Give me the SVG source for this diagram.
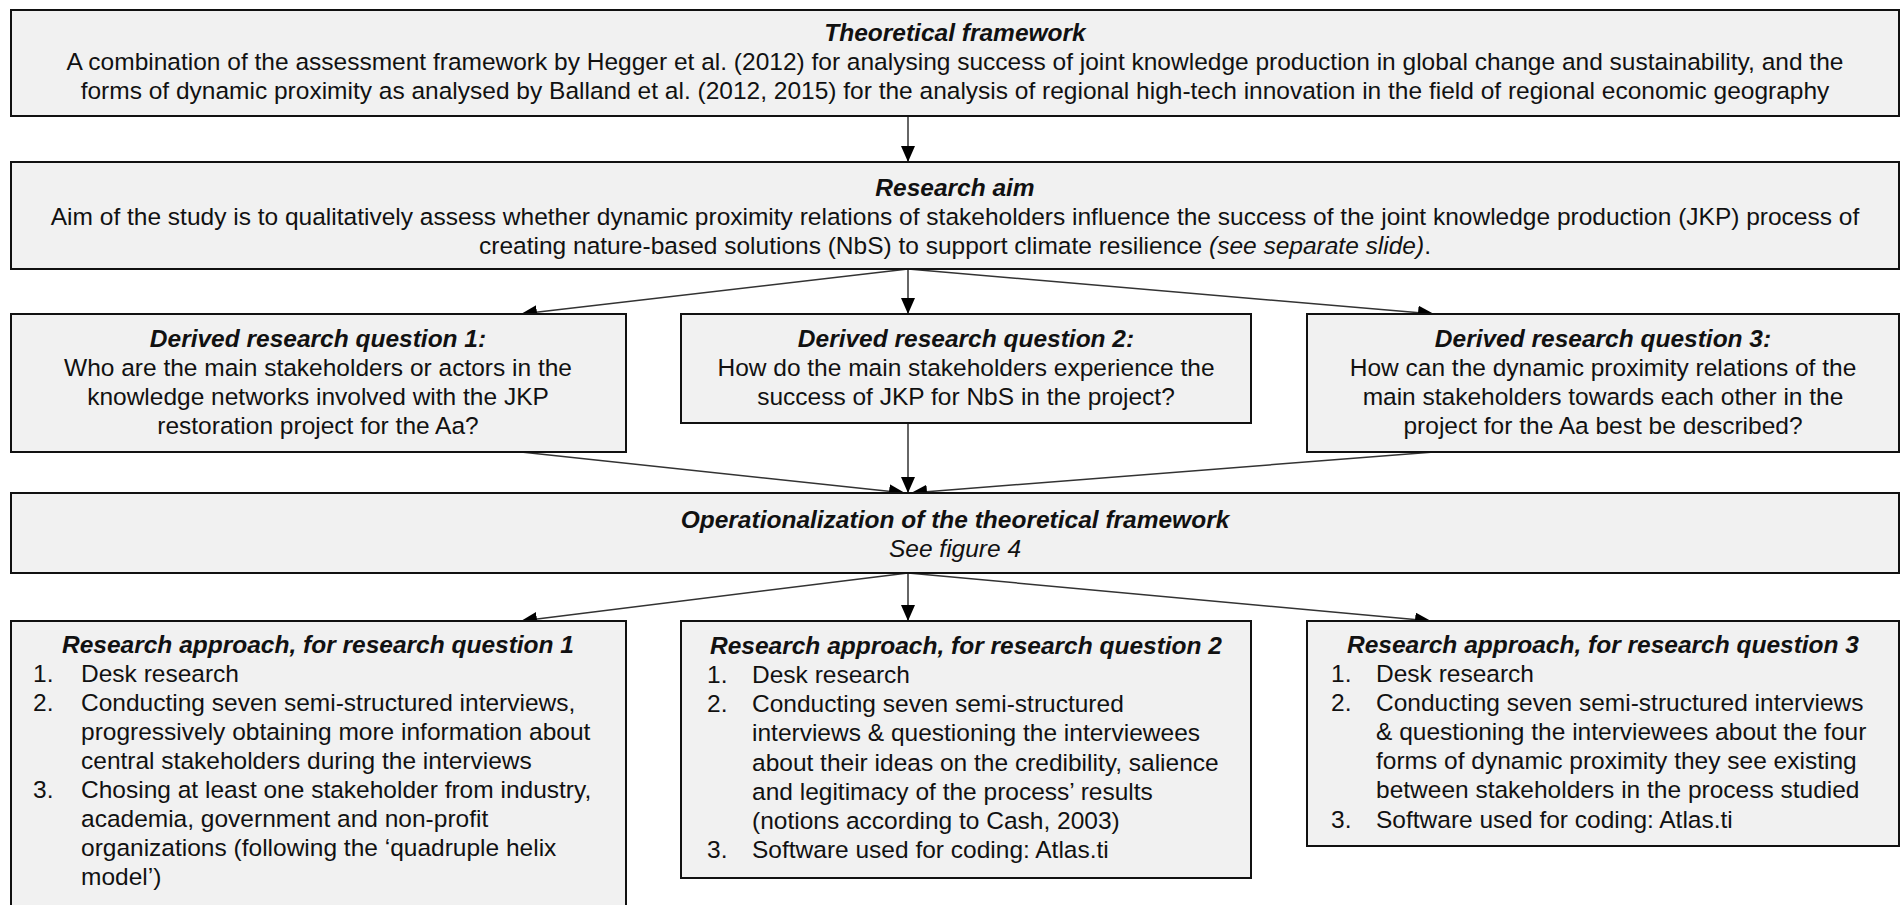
<svg xmlns="http://www.w3.org/2000/svg" width="1901" height="905" viewBox="0 0 1901 905">
<style>
.box{fill:#f1f1f1;stroke:#111;stroke-width:2}
text{font-family:"Liberation Sans",Arial,sans-serif;font-size:24.5px;fill:#111}
.c{text-anchor:middle}
.t{font-weight:bold;font-style:italic}
.i{font-style:italic}
.con line{stroke:#333;stroke-width:1.5;marker-end:url(#ah)}
</style>
<defs>
<marker id="ah" markerUnits="userSpaceOnUse" markerWidth="16" markerHeight="14" viewBox="0 0 16 14" refX="16" refY="7" orient="auto">
<path d="M0,0 L16,7 L0,14 Z" fill="#000"/>
</marker>
</defs>
<rect width="1901" height="905" fill="#fff"/>

<g class="con">
<line x1="908" y1="116" x2="908" y2="162"/>
<line x1="908" y1="269" x2="521" y2="314"/>
<line x1="908" y1="269" x2="908" y2="314"/>
<line x1="908" y1="269" x2="1434" y2="314"/>
<line x1="521" y1="452" x2="905" y2="493"/>
<line x1="908" y1="423" x2="908" y2="493"/>
<line x1="1434" y1="452" x2="911" y2="493"/>
<line x1="908" y1="573" x2="521" y2="621"/>
<line x1="908" y1="573" x2="908" y2="621"/>
<line x1="908" y1="573" x2="1431" y2="621"/>
</g>

<g id="theoretical-framework">
<rect class="box" x="11" y="10" width="1888" height="106"/>
<text class="c t" x="955" y="41">Theoretical framework</text>
<text class="c" x="955" y="70">A combination of the assessment framework by Hegger et al. (2012) for analysing success of joint knowledge production in global change and sustainability, and the</text>
<text class="c" x="955" y="99">forms of dynamic proximity as analysed by Balland et al. (2012, 2015) for the analysis of regional high-tech innovation in the field of regional economic geography</text>
</g>

<g id="research-aim">
<rect class="box" x="11" y="162" width="1888" height="107"/>
<text class="c t" x="955" y="196">Research aim</text>
<text class="c" x="955" y="225">Aim of the study is to qualitatively assess whether dynamic proximity relations of stakeholders influence the success of the joint knowledge production (JKP) process of</text>
<text class="c" x="955" y="254">creating nature-based solutions (NbS) to support climate resilience <tspan class="i">(see separate slide)</tspan>.</text>
</g>

<g id="rq1">
<rect class="box" x="11" y="314" width="615" height="138"/>
<text class="c t" x="318" y="347">Derived research question 1:</text>
<text class="c" x="318" y="376">Who are the main stakeholders or actors in the</text>
<text class="c" x="318" y="405">knowledge networks involved with the JKP</text>
<text class="c" x="318" y="434">restoration project for the Aa?</text>
</g>

<g id="rq2">
<rect class="box" x="681" y="314" width="570" height="109"/>
<text class="c t" x="966" y="347">Derived research question 2:</text>
<text class="c" x="966" y="376">How do the main stakeholders experience the</text>
<text class="c" x="966" y="405">success of JKP for NbS in the project?</text>
</g>

<g id="rq3">
<rect class="box" x="1307" y="314" width="592" height="138"/>
<text class="c t" x="1603" y="347">Derived research question 3:</text>
<text class="c" x="1603" y="376">How can the dynamic proximity relations of the</text>
<text class="c" x="1603" y="405">main stakeholders towards each other in the</text>
<text class="c" x="1603" y="434">project for the Aa best be described?</text>
</g>

<g id="operationalization">
<rect class="box" x="11" y="493" width="1888" height="80"/>
<text class="c t" x="955" y="528">Operationalization of the theoretical framework</text>
<text class="c i" x="955" y="557">See figure 4</text>
</g>

<g id="approach1">
<rect class="box" x="11" y="621" width="615" height="300"/>
<text class="c t" x="318" y="653">Research approach, for research question 1</text>
<text x="33" y="682">1.</text><text x="81" y="682">Desk research</text>
<text x="33" y="711">2.</text><text x="81" y="711">Conducting seven semi-structured interviews,</text>
<text x="81" y="740">progressively obtaining more information about</text>
<text x="81" y="769">central stakeholders during the interviews</text>
<text x="33" y="798">3.</text><text x="81" y="798">Chosing at least one stakeholder from industry,</text>
<text x="81" y="827">academia, government and non-profit</text>
<text x="81" y="856">organizations (following the ‘quadruple helix</text>
<text x="81" y="885">model’)</text>
</g>

<g id="approach2">
<rect class="box" x="681" y="621" width="570" height="257"/>
<text class="c t" x="966" y="654">Research approach, for research question 2</text>
<text x="707" y="683">1.</text><text x="752" y="683">Desk research</text>
<text x="707" y="712">2.</text><text x="752" y="712">Conducting seven semi-structured</text>
<text x="752" y="741">interviews &amp; questioning the interviewees</text>
<text x="752" y="771">about their ideas on the credibility, salience</text>
<text x="752" y="800">and legitimacy of the process’ results</text>
<text x="752" y="829">(notions according to Cash, 2003)</text>
<text x="707" y="858">3.</text><text x="752" y="858">Software used for coding: Atlas.ti</text>
</g>

<g id="approach3">
<rect class="box" x="1307" y="621" width="592" height="225"/>
<text class="c t" x="1603" y="653">Research approach, for research question 3</text>
<text x="1331" y="682">1.</text><text x="1376" y="682">Desk research</text>
<text x="1331" y="711">2.</text><text x="1376" y="711">Conducting seven semi-structured interviews</text>
<text x="1376" y="740">&amp; questioning the interviewees about the four</text>
<text x="1376" y="769">forms of dynamic proximity they see existing</text>
<text x="1376" y="798">between stakeholders in the process studied</text>
<text x="1331" y="828">3.</text><text x="1376" y="828">Software used for coding: Atlas.ti</text>
</g>
</svg>
